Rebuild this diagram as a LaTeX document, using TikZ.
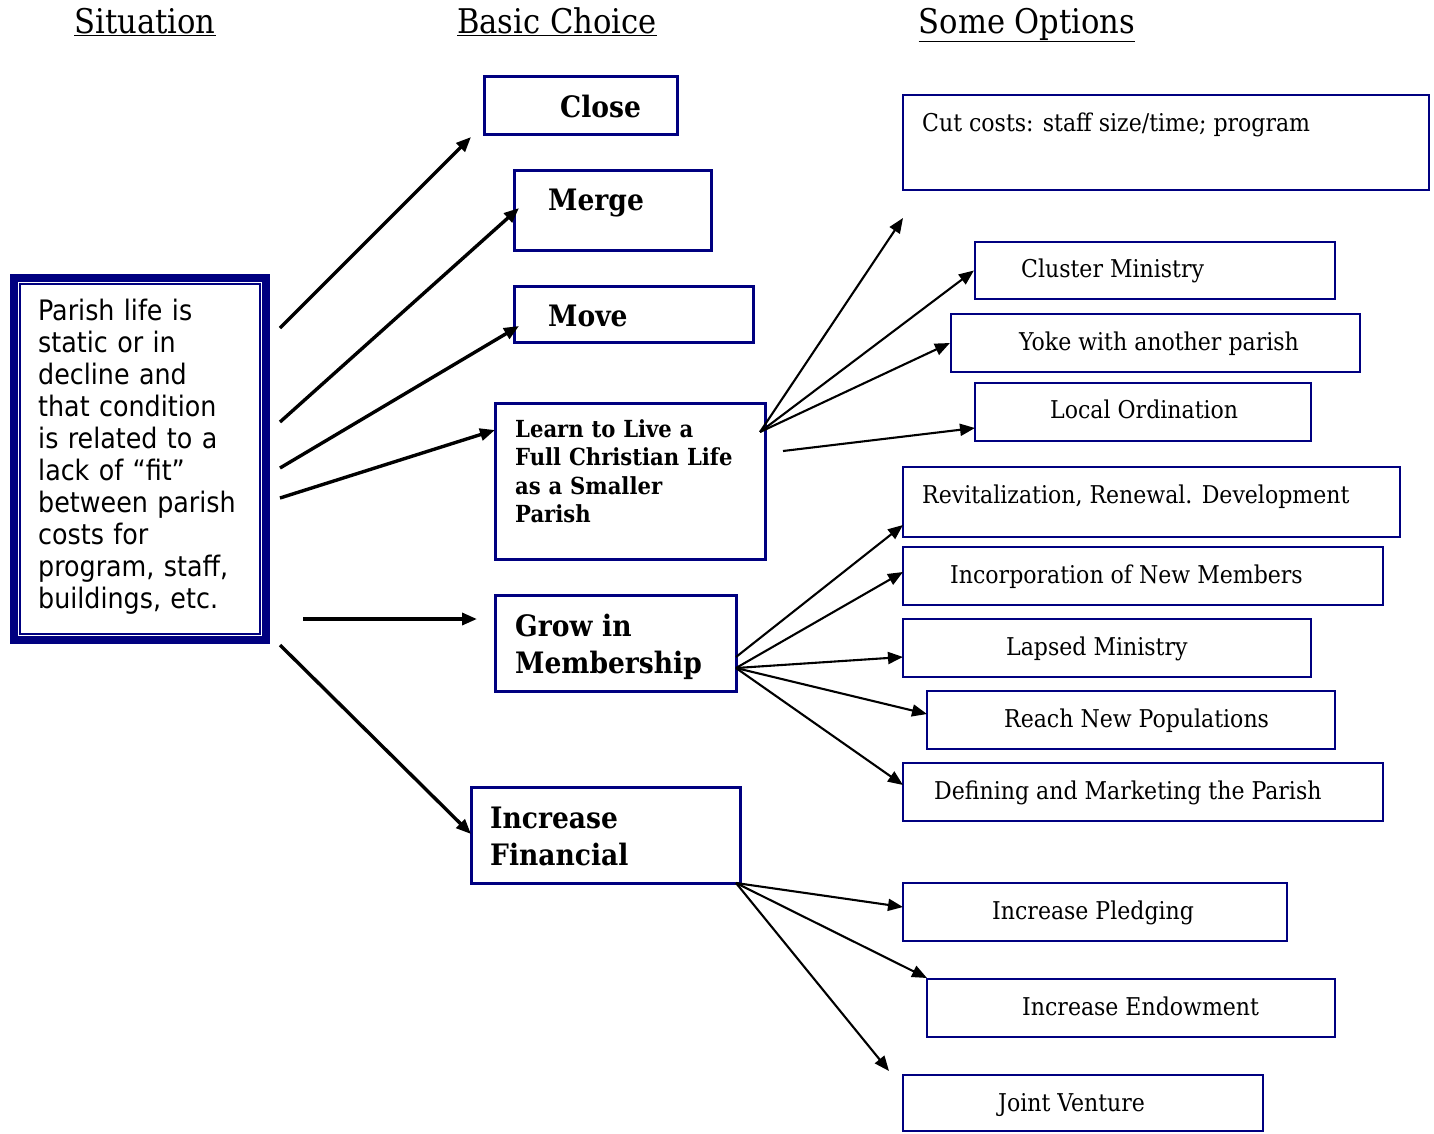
\documentclass[tikz,border=0pt]{standalone}
\usepackage{fontspec}
\setmainfont{DejaVu Serif Condensed}
\newfontfamily\tah{DejaVu Sans Condensed}
\usetikzlibrary{arrows.meta}
\definecolor{navy}{RGB}{0,0,128}
\begin{document}
\begin{tikzpicture}[x=1pt,y=-1pt,
  box/.style={draw=navy, line width=3pt, inner sep=0pt},
  obox/.style={draw=navy, line width=2.2pt, inner sep=0pt},
  thickarrow/.style={line width=3.4pt, -{Triangle[length=15pt,width=12pt]}},
  thinarrow/.style={line width=2.1pt, -{Triangle[length=15pt,width=12pt]}},
  lbl/.style={anchor=base west, inner sep=0pt},
  hdr/.style={anchor=base, inner sep=0pt, font=\fontsize{34}{40}\selectfont},
  otext/.style={lbl, font=\fontsize{24.5}{28}\selectfont},
  btext/.style={lbl, font=\bfseries\fontsize{29.5}{37}\selectfont, text width=260pt, align=left},
]
\useasboundingbox (0,0) rectangle (1434,1133);
% headers
\node[hdr] (h1) at (145,33) {\underline{Situation}};
\node[hdr] (h2) at (557,33) {\underline{Basic Choice}};
\node[hdr] (h3) at (1027,33) {\underline{Some Options}};
% situation box
\draw[navy, line width=8pt] (14,278) rectangle (266,640);
\node[draw=navy, line width=1.6pt, minimum width=240pt, minimum height=350pt, inner sep=0pt] (sit) at (140,459) {};
\node[lbl, font=\tah\fontsize{28.2}{32}\selectfont, text width=230pt, align=left] (sitt) at (38,320)
 {Parish life is\\ static or in\\ decline and\\ that condition\\ is related to a\\ lack of “fit”\\ between parish\\ costs for\\ program, staff,\\ buildings, etc.};
% basic choice boxes
\node[box, minimum width=193pt, minimum height=58pt] (close) at (580.5,105) {};
\node[btext] (closet) at (560,117) {Close};
\node[box, minimum width=197pt, minimum height=80pt] (merge) at (612.5,210) {};
\node[btext] (merget) at (548,210) {Merge};
\node[box, minimum width=239pt, minimum height=56pt] (move) at (633.5,314) {};
\node[btext] (movet) at (548,326) {Move};
\node[box, minimum width=270pt, minimum height=156pt] (learn) at (630,481) {};
\node[lbl, font=\bfseries\fontsize{23.5}{28.5}\selectfont, text width=250pt, align=left] (learnt) at (515,437)
 {Learn to Live a\\ Full Christian Life\\ as a Smaller\\ Parish};
\node[box, minimum width=241pt, minimum height=96pt] (grow) at (615.5,643) {};
\node[btext] (growt) at (515,636) {Grow in\\ Membership};
\node[box, minimum width=269pt, minimum height=96pt] (fin) at (605.5,835) {};
\node[btext] (fint) at (490,828) {Increase\\ Financial};
% option boxes
\node[obox, minimum width=526pt, minimum height=95pt] (cut) at (1166,142.5) {};
\node[otext] (cutt) at (922,131) {Cut costs: staff size/time; program};
\node[obox, minimum width=360pt, minimum height=57pt] (clus) at (1155,270.5) {};
\node[otext] (clust) at (1021,277) {Cluster Ministry};
\node[obox, minimum width=409pt, minimum height=58pt] (yoke) at (1155.5,343) {};
\node[otext] (yoket) at (1019,350) {Yoke with another parish};
\node[obox, minimum width=336pt, minimum height=58pt] (local) at (1143,412) {};
\node[otext] (localt) at (1050,418) {Local Ordination};
\node[obox, minimum width=497pt, minimum height=70pt] (rev) at (1151.5,502) {};
\node[otext] (revt) at (922,503) {Revitalization, Renewal. Development};
\node[obox, minimum width=480pt, minimum height=58pt] (inc) at (1143,576) {};
\node[otext] (inct) at (950,583) {Incorporation of New Members};
\node[obox, minimum width=408pt, minimum height=58pt] (lap) at (1107,648) {};
\node[otext] (lapt) at (1006,655) {Lapsed Ministry};
\node[obox, minimum width=408pt, minimum height=58pt] (reach) at (1131,720) {};
\node[otext] (reacht) at (1004,727) {Reach New Populations};
\node[obox, minimum width=480pt, minimum height=58pt] (def) at (1143,792) {};
\node[otext] (deft) at (934,799) {Defining and Marketing the Parish};
\node[obox, minimum width=384pt, minimum height=58pt] (pled) at (1095,912) {};
\node[otext] (pledt) at (992,919) {Increase Pledging};
\node[obox, minimum width=408pt, minimum height=58pt] (endow) at (1131,1008) {};
\node[otext] (endowt) at (1022,1015) {Increase Endowment};
\node[obox, minimum width=360pt, minimum height=56pt] (joint) at (1083,1103) {};
\node[otext] (jointt) at (998,1111) {Joint Venture};
% connector points
\coordinate (s1) at (280,328); \coordinate (e1) at (471,137);
\coordinate (s2) at (280,422); \coordinate (e2) at (519,208);
\coordinate (s3) at (280,468); \coordinate (e3) at (519,326);
\coordinate (s4) at (280,498); \coordinate (e4) at (495,430);
\coordinate (s5) at (303,619); \coordinate (e5) at (477,619);
\coordinate (s6) at (280,645); \coordinate (e6) at (471,834);
\coordinate (l0) at (760,432); \coordinate (l1) at (783,451);
\coordinate (free1) at (903,218);
\coordinate (lend) at (975,428);
\coordinate (g0) at (736,668); \coordinate (g1) at (736,657);
\coordinate (f0) at (736,883);
\coordinate (jend) at (889,1071);
\coordinate (endend) at (927,978);
\coordinate (pend) at (903,907);
\coordinate (revend) at (903,525);
\coordinate (incend) at (903,572);
\coordinate (lapend) at (903,657);
\coordinate (reachend) at (927,714);
\coordinate (defend) at (903,785);
% connectors
\draw[thickarrow] (s1) -- (e1);
\draw[thickarrow] (s2) -- (e2);
\draw[thickarrow] (s3) -- (e3);
\draw[thickarrow] (s4) -- (e4);
\draw[thickarrow] (s5) -- (e5);
\draw[thickarrow] (s6) -- (e6);
\draw[thinarrow] (l0) -- (free1);
\draw[thinarrow] (l0) -- (clus.west);
\draw[thinarrow] (l0) -- (yoke.west);
\draw[thinarrow] (l1) -- (lend);
\draw[thinarrow] (g1) -- (revend);
\draw[thinarrow] (g0) -- (incend);
\draw[thinarrow] (g0) -- (lapend);
\draw[thinarrow] (g0) -- (reachend);
\draw[thinarrow] (g0) -- (defend);
\draw[thinarrow] (f0) -- (pend);
\draw[thinarrow] (f0) -- (endend);
\draw[thinarrow] (f0) -- (jend);
\end{tikzpicture}
\end{document}
